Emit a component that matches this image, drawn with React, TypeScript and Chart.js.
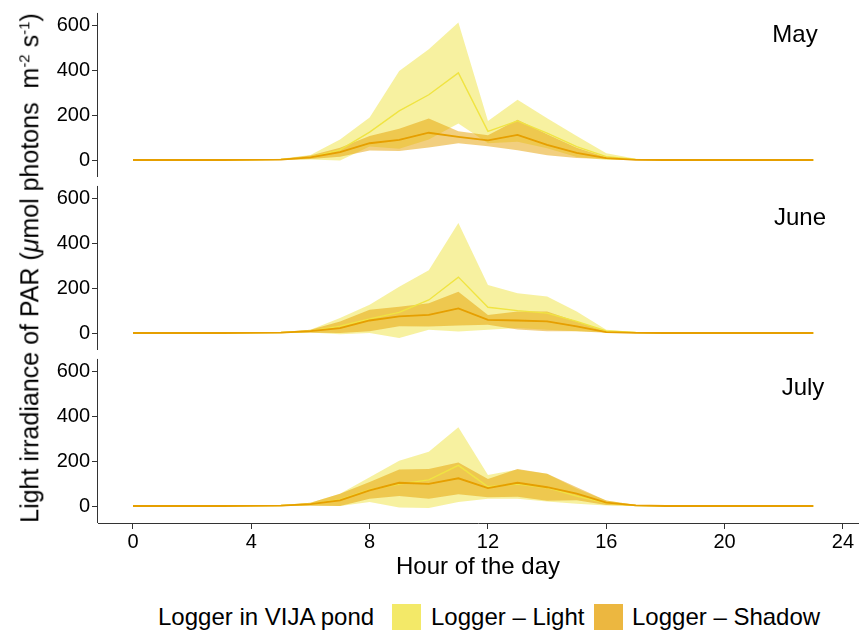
import React, { useEffect, useRef } from "react";
import { Chart, registerables } from "chart.js";
Chart.register(...registerables);

const FONT = '"Liberation Sans", Arial, Helvetica, sans-serif';

const hours = [0, 1, 2, 3, 4, 5, 6, 7, 8, 9, 10, 11, 12, 13, 14, 15, 16, 17, 18, 19, 20, 21, 22, 23];
const xTicks = [0, 4, 8, 12, 16, 20, 24];
const yTicks = [0, 200, 400, 600];
const months = ["May", "June", "July"];
const monthLabelX = [22.38, 22.55, 22.65];
const monthLabelY = [559, 515, 528];

// May
const mayLightMean = [0, 0, 0, 0, 0.5, 3, 12, 45, 125, 220, 292, 390, 128, 175, 120, 60, 15, 3, 0, 0, 0, 0, 0, 0];
const mayLightUpper = [0, 0, 0, 0, 1, 6, 22, 92, 190, 398, 495, 615, 175, 270, 187, 107, 30, 6, 0, 0, 0, 0, 0, 0];
const mayLightLower = [0, 0, 0, 0, 0, 0, 2, -2, 60, 50, 92, 163, 75, 82, 53, 13, 0, 0, 0, 0, 0, 0, 0, 0];
const mayShadowMean = [0, 0, 0, 0, 0.5, 2, 12, 35, 75, 90, 122, 104, 88, 112, 68, 32, 8, 1, 0, 0, 0, 0, 0, 0];
const mayShadowUpper = [0, 0, 0, 0, 1, 4, 20, 55, 107, 140, 186, 129, 111, 180, 115, 55, 12, 2, 0, 0, 0, 0, 0, 0];
const mayShadowLower = [0, 0, 0, 0, 0, 0, 4, 15, 43, 40, 56, 75, 62, 44, 21, 9, 4, 0, 0, 0, 0, 0, 0, 0];

// June
const junLightMean = [0, 0, 0, 0, 0.5, 2, 8, 31, 63, 92, 148, 250, 115, 100, 89, 52, 9, 2, 0, 0, 0, 0, 0, 0];
const junLightUpper = [0, 0, 0, 0, 1, 5, 15, 67, 126, 207, 281, 492, 215, 178, 163, 96, 15, 4, 0, 0, 0, 0, 0, 0];
const junLightLower = [0, 0, 0, 0, 0, 0, 2, -5, 0, -22, 15, 7, 15, 22, 15, 8, 3, 0, 0, 0, 0, 0, 0, 0];
const junShadowMean = [0, 0, 0, 0, 0.5, 2, 8, 22, 56, 74, 81, 110, 59, 56, 52, 30, 4, 1, 0, 0, 0, 0, 0, 0];
const junShadowUpper = [0, 0, 0, 0, 1, 4, 15, 52, 104, 118, 133, 185, 81, 96, 96, 52, 7, 2, 0, 0, 0, 0, 0, 0];
const junShadowLower = [0, 0, 0, 0, 0, 0, 1, 0, 8, 30, 29, 34, 37, 16, 8, 8, 1, 0, 0, 0, 0, 0, 0, 0];

// July
const julLightMean = [0, 0, 0, 0, 0.5, 2, 8, 28, 73, 98, 117, 182, 86, 98, 82, 44, 13, 2, 0, 0, 0, 0, 0, 0];
const julLightUpper = [0, 0, 0, 0, 1, 4, 15, 55, 129, 203, 243, 352, 139, 163, 144, 77, 25, 4, 0, 0, 0, 0, 0, 0];
const julLightLower = [0, 0, 0, 0, 0, 0, 2, 0, 18, -7, -9, 18, 33, 33, 20, 10, 2, 0, 0, 0, 0, 0, 0, 0];
const julShadowMean = [0, 0, 0, 0, 0.5, 2, 8, 25, 70, 104, 99, 124, 80, 104, 84, 55, 15, 3, 0, 0, 0, 0, 0, 0];
const julShadowUpper = [0, 0, 0, 0, 1, 4, 15, 55, 107, 163, 166, 195, 121, 166, 144, 84, 25, 4, 0, 0, 0, 0, 0, 0];
const julShadowLower = [0, 0, 0, 0, 0, 0, 1, 0, 33, 45, 32, 53, 39, 42, 24, 26, 5, 1, 0, 0, 0, 0, 0, 0];

const panels = [
  { id: "yMay", lm: mayLightMean, lu: mayLightUpper, ll: mayLightLower, sm: mayShadowMean, su: mayShadowUpper, sl: mayShadowLower },
  { id: "yJun", lm: junLightMean, lu: junLightUpper, ll: junLightLower, sm: junShadowMean, su: junShadowUpper, sl: junShadowLower },
  { id: "yJul", lm: julLightMean, lu: julLightUpper, ll: julLightLower, sm: julShadowMean, su: julShadowUpper, sl: julShadowLower },
];

const Y_MIN = -76;
const Y_MAX = 698;
const AXIS_TOP = 658;
const X_MIN = -1.183;
const X_MAX = 24.51;

const LIGHT_FILL = "rgba(240,228,66,0.5)";
const SHADOW_FILL = "rgba(230,159,0,0.5)";
const LIGHT_LINE = "#F0E442";
const SHADOW_LINE = "#E69F00";
const AXIS_COLOR = "#333333";

const pts = (arr: number[]) => hours.map((h, i) => ({ x: h, y: arr[i] }));

const panelPlugin = {
  id: "panelDecor",
  afterDraw(chart: any) {
    const ctx = chart.ctx;
    const xs = chart.scales.x;
    panels.forEach((p, i) => {
      const ys = chart.scales[p.id];
      ctx.save();
      ctx.strokeStyle = AXIS_COLOR;
      ctx.lineWidth = 1;
      const x = Math.round(xs.left) - 0.5;
      ctx.beginPath();
      ctx.moveTo(x, ys.getPixelForValue(Y_MIN));
      ctx.lineTo(x, ys.getPixelForValue(AXIS_TOP));
      ctx.stroke();
      ctx.font = `24px ${FONT}`;
      ctx.fillStyle = "#000";
      ctx.textAlign = "center";
      ctx.textBaseline = "middle";
      ctx.fillText(months[i], xs.getPixelForValue(monthLabelX[i]), ys.getPixelForValue(monthLabelY[i]));
      ctx.restore();
    });
  },
};

function buildDatasets() {
  const ds: any[] = [];
  panels.forEach((p) => {
    const base = { yAxisID: p.id, xAxisID: "x", pointRadius: 0, pointHoverRadius: 0, tension: 0 };
    ds.push({ ...base, label: "Light upper", data: pts(p.lu), borderWidth: 0, backgroundColor: LIGHT_FILL, fill: "+1", order: 4 });
    ds.push({ ...base, label: "Light lower", data: pts(p.ll), borderWidth: 0, fill: false, order: 4 });
    ds.push({ ...base, label: "Shadow upper", data: pts(p.su), borderWidth: 0, backgroundColor: SHADOW_FILL, fill: "+1", order: 3 });
    ds.push({ ...base, label: "Shadow lower", data: pts(p.sl), borderWidth: 0, fill: false, order: 3 });
    ds.push({ ...base, label: "Logger - Light", data: pts(p.lm), borderColor: LIGHT_LINE, borderWidth: 1.4, fill: false, order: 2 });
    ds.push({ ...base, label: "Logger - Shadow", data: pts(p.sm), borderColor: SHADOW_LINE, borderWidth: 1.8, fill: false, order: 1 });
  });
  return ds;
}

function yScale() {
  return {
    type: "linear",
    position: "left",
    stack: "panels",
    stackWeight: 1,
    min: Y_MIN,
    max: Y_MAX,
    afterBuildTicks: (s: any) => {
      s.ticks = yTicks.map((v) => ({ value: v }));
    },
    afterFit: (s: any) => {
      s.width = 98;
      s.paddingTop = 0;
      s.paddingBottom = 0;
    },
    border: { display: false },
    grid: { drawOnChartArea: false, drawTicks: true, tickLength: 6, color: AXIS_COLOR, lineWidth: 1 },
    ticks: { padding: 2, color: "#000", font: { size: 20, family: FONT } },
  };
}

export default function App() {
  const ref = useRef<HTMLCanvasElement | null>(null);
  useEffect(() => {
    if (!ref.current) return;
    const chart = new Chart(ref.current, {
      type: "line",
      data: { datasets: buildDatasets() },
      options: {
        responsive: false,
        animation: false,
        events: [],
        layout: { padding: { top: 4, left: 0, right: 1, bottom: 0 } },
        plugins: { legend: { display: false }, tooltip: { enabled: false } },
        scales: {
          x: {
            type: "linear",
            min: X_MIN,
            max: X_MAX,
            afterBuildTicks: (s: any) => {
              s.ticks = xTicks.map((v) => ({ value: v }));
            },
            afterFit: (s: any) => {
              s.height = 77;
              s.paddingLeft = 0;
              s.paddingRight = 0;
            },
            border: { display: true, color: AXIS_COLOR, width: 1 },
            grid: { drawOnChartArea: false, drawTicks: true, tickLength: 6, color: AXIS_COLOR },
            ticks: { padding: 1, color: "#000", font: { size: 20, family: FONT }, maxRotation: 0 },
            title: {
              display: true,
              text: "Hour of the day",
              color: "#000",
              font: { size: 24, family: FONT },
              padding: { top: 0, bottom: 18 },
            },
          },
          yJul: yScale(),
          yJun: yScale(),
          yMay: yScale(),
        } as any,
      },
      plugins: [panelPlugin],
    } as any);
    return () => chart.destroy();
  }, []);

  const textStyle: React.CSSProperties = {
    position: "absolute",
    top: 603,
    fontSize: 24,
    lineHeight: "28px",
    whiteSpace: "nowrap",
    color: "#000",
  };
  const boxStyle: React.CSSProperties = { position: "absolute", top: 604, width: 29, height: 26 };

  return (
    <div
      style={{
        position: "fixed",
        left: 0,
        top: 0,
        width: 859,
        height: 630,
        overflow: "hidden",
        background: "#fff",
        fontFamily: FONT,
      }}
    >
      <canvas ref={ref} width={859} height={600} style={{ position: "absolute", left: 0, top: 0, width: 859, height: 600 }} />
      <div
        style={{
          position: "absolute",
          left: 27,
          top: 268,
          transform: "translate(-50%, -50%) rotate(-90deg)",
          fontSize: 25,
          lineHeight: "28px",
          whiteSpace: "nowrap",
          color: "#000",
        }}
      >
        Light irradiance of PAR (<i>μ</i>mol photons&nbsp; m<sup style={{ fontSize: 15 }}>-2</sup> s<sup style={{ fontSize: 15 }}>-1</sup>)
      </div>
      <span style={{ ...textStyle, left: 158 }}>Logger in VIJA pond</span>
      <div style={{ ...boxStyle, left: 392, background: "rgba(240,228,66,0.8)" }} />
      <span style={{ ...textStyle, left: 431 }}>Logger – Light</span>
      <div style={{ ...boxStyle, left: 594, background: "rgba(230,159,0,0.75)" }} />
      <span style={{ ...textStyle, left: 632 }}>Logger – Shadow</span>
    </div>
  );
}
